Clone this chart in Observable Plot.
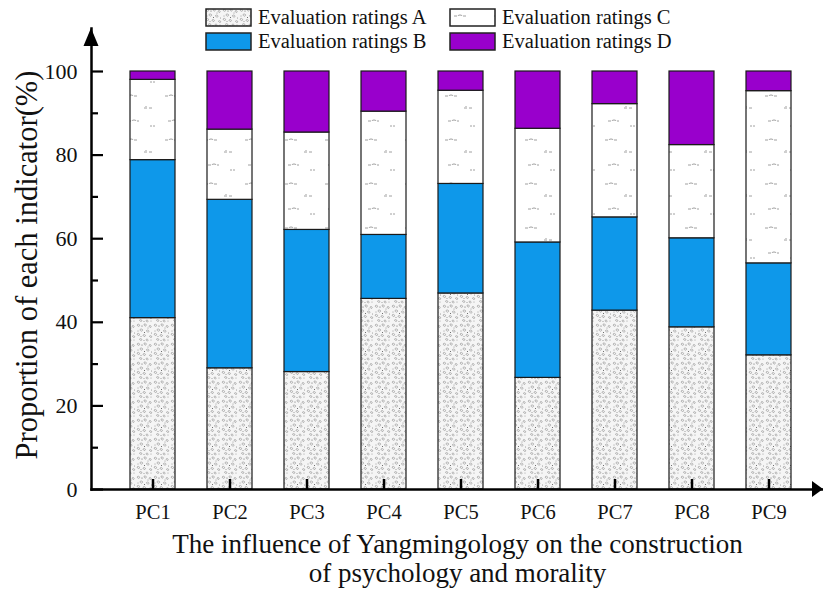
<!DOCTYPE html>
<html>
<head>
<meta charset="utf-8">
<script src="https://cdn.jsdelivr.net/npm/d3@7"></script>
<script src="https://cdn.jsdelivr.net/npm/@observablehq/plot@0.6"></script>
<style>
  html, body { margin: 0; padding: 0; background: #fff; }
  #wrap { position: relative; width: 823px; height: 595px; font-family: "Liberation Serif", "Times New Roman", serif; }
  #legend { position: absolute; left: 205px; top: 5px; display: grid; grid-template-columns: 244px auto; grid-auto-rows: 24px; font-size: 20.5px; color: #111; }
  .item { display: flex; align-items: center; }
  .item svg { margin-right: 6px; }
</style>
</head>
<body>
<svg width="0" height="0" style="position:absolute">
  <defs>
    <pattern id="patA" width="17" height="19" patternUnits="userSpaceOnUse">
      <rect width="17" height="19" fill="#f5f5f5"/>
      <path d="M1,2c1,-1.2 2.6,-0.9 2.6,0.4s-1.8,1.3 -2.6,-0.4z M8,1.2c1.3,-0.7 2.6,0 2.2,1.3s-2.2,0.4 -2.2,-1.3z M13,3c0.9,-0.8 2.4,-0.4 2.2,0.8s-2,0.6 -2.2,-0.8z M4,6.5c1,-0.9 3,-0.5 2.6,0.9s-2.6,0.8 -2.6,-0.9z M10.5,7.5c0.9,-0.9 2.6,-0.4 2.4,1s-2.2,0.7 -2.4,-1z M1,11c0.9,-1 2.6,-0.7 2.6,0.7s-2.2,0.9 -2.6,-0.7z M7,12c1.2,-0.9 2.8,-0.3 2.4,0.9s-2.4,0.5 -2.4,-0.9z M13.5,13c0.8,-0.8 2.4,-0.3 2.2,0.9s-2,0.5 -2.2,-0.9z M3.5,16c1,-0.8 2.5,-0.4 2.3,0.8s-2.1,0.6 -2.3,-0.8z M10,16.5c0.9,-0.7 2.4,-0.2 2.1,0.9s-2,0.4 -2.1,-0.9z" fill="none" stroke="#8a8a8a" stroke-width="0.6"/>
      <g fill="#444">
        <circle cx="6" cy="3" r="0.5"/><circle cx="12" cy="5" r="0.45"/><circle cx="2" cy="8" r="0.45"/>
        <circle cx="8.5" cy="9.5" r="0.5"/><circle cx="5" cy="13.5" r="0.45"/><circle cx="15.5" cy="10" r="0.45"/>
        <circle cx="8" cy="17.5" r="0.45"/><circle cx="15" cy="17" r="0.4"/>
      </g>
    </pattern>
    <pattern id="patC" width="40" height="44" patternUnits="userSpaceOnUse">
      <rect width="40" height="44" fill="#fff"/>
      <path d="M5,8h3m1,0a2,1 0 0 1 4,0m1,0h3 M24,20h3m2,0h3 M26,19v-1 M8,33h3m1,0a2,1 0 0 1 4,0m1,0h2 M30,38h2m1,0h2" fill="none" stroke="#888" stroke-width="0.8"/>
    </pattern>
  </defs>
</svg>
<div id="wrap">
  <div id="chart"></div>
  <div id="legend"></div>
</div>
<script>
// ---- data ----
const categories = ["PC1", "PC2", "PC3", "PC4", "PC5", "PC6", "PC7", "PC8", "PC9"];
const seriesNames = ["Evaluation ratings A", "Evaluation ratings B", "Evaluation ratings C", "Evaluation ratings D"];
const ratingA = [41.0, 29.0, 28.1, 45.6, 46.9, 26.7, 42.8, 38.8, 32.1];
const ratingB = [37.8, 40.3, 34.0, 15.3, 26.2, 32.4, 22.3, 21.3, 22.0];
const ratingC = [19.2, 16.8, 23.3, 29.5, 22.3, 27.2, 27.1, 22.3, 41.2];
const ratingD = [2.0, 13.9, 14.6, 9.6, 4.6, 13.7, 7.8, 17.6, 4.7];
const yTicks = [0, 20, 40, 60, 80, 100];
const yMinorTicks = [10, 30, 50, 70, 90];
const fills = ["url(#patA)", "#0e98ea", "url(#patC)", "#9900cc"];

const seriesValues = [ratingA, ratingB, ratingC, ratingD];
const rows = [];
seriesNames.forEach((s, si) => categories.forEach((c, ci) => rows.push({pc: c, series: s, value: seriesValues[si][ci]})));

const W = 823, H = 595, mL = 91, mR = 0, mT = 28, mB = 106;
const frameW = W - mL - mR, frameH = H - mT - mB;

// axis arrow heads
const arrows = (index, scales, values, dims) => {
  const g = d3.create("svg:g").attr("fill", "#000");
  const x0 = dims.marginLeft, yb = dims.height - dims.marginBottom;
  g.append("path").attr("d", `M${x0},${dims.marginTop}l-7.5,18h15z`);
  g.append("path").attr("d", `M${dims.width},${yb}l-11,-8v16z`);
  return g.node();
};

const chart = Plot.plot({
  width: W, height: H,
  marginLeft: mL, marginRight: mR, marginTop: mT, marginBottom: mB,
  style: {fontFamily: "Liberation Serif", fontSize: "21px", color: "#111", background: "transparent"},
  x: {domain: categories, range: [110.4, 811.6], paddingInner: 0.41, paddingOuter: 0.2, axis: null},
  y: {domain: [0, 100], range: [489, 71], axis: null},
  color: {type: "ordinal", domain: seriesNames, range: fills},
  marks: [
    Plot.barY(rows, {x: "pc", y: "value", fill: "series", stroke: "#1a1a1a", strokeWidth: 1.2}),
    Plot.axisY({ticks: yTicks, tickSize: 0, tickPadding: 14, fontSize: 22, label: null}),
    Plot.axisX({tickSize: 0, tickPadding: 15, fontSize: 20.5, label: null}),
    // inward ticks
    Plot.ruleY(yTicks, {y: d => d, insetRight: frameW - 12, stroke: "#000", strokeWidth: 2.2}),
    Plot.ruleY(yMinorTicks, {y: d => d, insetRight: frameW - 7, stroke: "#000", strokeWidth: 2.2}),
    Plot.ruleX(categories, {x: d => d, insetTop: frameH - 10, stroke: "#000", strokeWidth: 2.5}),
    Plot.frame({anchor: "left", strokeWidth: 2.5, stroke: "#000"}),
    Plot.frame({anchor: "bottom", strokeWidth: 2.5, stroke: "#000"}),
    arrows,
    Plot.text(["Proportion of each indicator(%)"], {frameAnchor: "left", textAnchor: "middle", rotate: -90, dx: -64, dy: 6, fontSize: 30.5, fill: "#111"}),
    Plot.text(["The influence of Yangmingology on the construction\nof psychology and morality"], {frameAnchor: "bottom", lineAnchor: "top", dy: 42, lineHeight: 1.1, fontSize: 27, fill: "#111"})
  ]
});
document.getElementById("chart").appendChild(chart);

const legend = document.getElementById("legend");
[0, 2, 1, 3].forEach(i => {
  const item = document.createElement("div");
  item.className = "item";
  item.innerHTML = `<svg width="47" height="19"><rect x="1" y="1" width="45" height="17" fill="${fills[i]}" stroke="#222" stroke-width="1.5"/></svg><span>${seriesNames[i]}</span>`;
  legend.appendChild(item);
});
</script>
</body>
</html>
